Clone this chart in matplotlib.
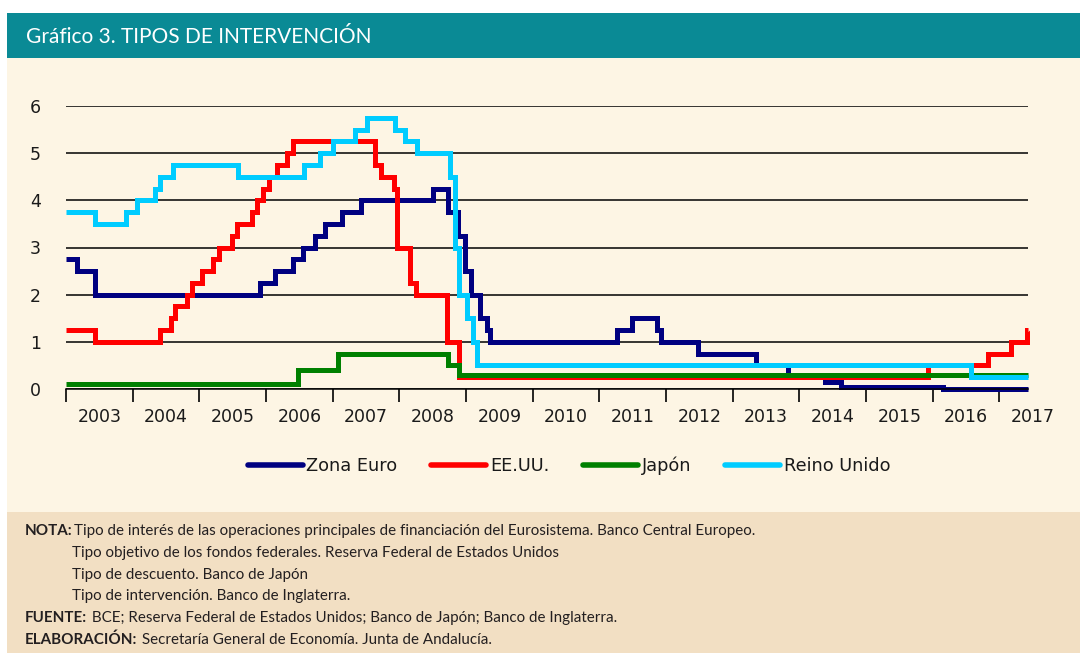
import matplotlib
matplotlib.use("Agg")
import matplotlib.pyplot as plt
from matplotlib import font_manager
from matplotlib.patches import Rectangle
from matplotlib.transforms import blended_transform_factory

# =========================================
# DATOS (año decimal del cambio -> tipo vigente desde ese momento)
# =========================================

anios = list(range(2003, 2018))
fecha_fin = 2017.43

euro_fechas = [2003.0, 2003.17, 2003.43, 2005.91, 2006.14, 2006.41, 2006.56, 2006.74,
               2006.89, 2007.14, 2007.43, 2008.51, 2008.73, 2008.88, 2008.98, 2009.08,
               2009.21, 2009.31, 2009.36, 2011.26, 2011.49, 2011.86, 2011.93, 2012.48,
               2013.35, 2013.83, 2014.38, 2014.63, 2016.16]
euro_tipos = [2.75, 2.5, 2.0, 2.25, 2.5, 2.75, 3.0, 3.25,
              3.5, 3.75, 4.0, 4.25, 3.75, 3.25, 2.5, 2.0,
              1.5, 1.25, 1.0, 1.25, 1.5, 1.25, 1.0, 0.75,
              0.5, 0.25, 0.15, 0.05, 0.0]

eeuu_fechas = [2003.0, 2003.43, 2004.41, 2004.58, 2004.64, 2004.81, 2004.89, 2005.04,
               2005.21, 2005.29, 2005.49, 2005.56, 2005.79, 2005.86, 2005.96, 2006.04,
               2006.16, 2006.31, 2006.41, 2007.64, 2007.72, 2007.92, 2007.97, 2008.16,
               2008.25, 2008.72, 2008.9, 2015.93, 2016.83, 2017.18, 2017.41]
eeuu_tipos = [1.25, 1.0, 1.25, 1.5, 1.75, 2.0, 2.25, 2.5,
              2.75, 3.0, 3.25, 3.5, 3.75, 4.0, 4.25, 4.5,
              4.75, 5.0, 5.25, 4.75, 4.5, 4.25, 3.0, 2.25,
              2.0, 1.0, 0.25, 0.5, 0.75, 1.0, 1.25]

japon_fechas = [2003.0, 2006.48, 2007.08, 2008.73, 2008.9]
japon_tipos = [0.1, 0.4, 0.75, 0.5, 0.3]

uk_fechas = [2003.0, 2003.43, 2003.9, 2004.07, 2004.33, 2004.41, 2004.6, 2005.58,
             2006.57, 2006.81, 2007.0, 2007.33, 2007.51, 2007.93, 2008.08, 2008.26,
             2008.76, 2008.84, 2008.9, 2009.01, 2009.1, 2009.16, 2016.58]
uk_tipos = [3.75, 3.5, 3.75, 4.0, 4.25, 4.5, 4.75, 4.5,
            4.75, 5.0, 5.25, 5.5, 5.75, 5.5, 5.25, 5.0,
            4.5, 3.0, 2.0, 1.5, 1.0, 0.5, 0.25]

series = [
    ("Zona Euro", euro_fechas, euro_tipos, "#000080"),
    ("EE.UU.", eeuu_fechas, eeuu_tipos, "#FF0000"),
    ("Japón", japon_fechas, japon_tipos, "#008000"),
    ("Reino Unido", uk_fechas, uk_tipos, "#00CCFF"),
]

notas = [
    ("NOTA:", "Tipo de interés de las operaciones principales de financiación del Eurosistema. Banco Central Europeo."),
    ("", "Tipo objetivo de los fondos federales. Reserva Federal de Estados Unidos"),
    ("", "Tipo de descuento. Banco de Japón"),
    ("", "Tipo de intervención. Banco de Inglaterra."),
    ("FUENTE:", " BCE; Reserva Federal de Estados Unidos; Banco de Japón; Banco de Inglaterra."),
    ("ELABORACIÓN:", " Secretaría General de Economía. Junta de Andalucía."),
]

# =========================================
# FUENTES
# =========================================

instaladas = {f.name for f in font_manager.fontManager.ttflist}


def elegir(*candidatas):
    for c in candidatas:
        if c in instaladas:
            return c
    return "DejaVu Sans"


fuente_titulo = elegir("Lato", "Open Sans", "Noto Sans")
fuente_nota = elegir("Liberation Sans Narrow", "DejaVu Sans Condensed", "Lato")

plt.rcParams["font.family"] = ["DejaVu Sans"]

# =========================================
# FIGURA Y FONDOS
# =========================================

W, H = 1080, 653
fig = plt.figure(figsize=(W / 100, H / 100), dpi=100, facecolor="white")


def px_rect(x0, y0, x1, y1, color):
    fig.patches.append(Rectangle((x0 / W, 1 - y1 / H), (x1 - x0) / W, (y1 - y0) / H,
                                 transform=fig.transFigure, facecolor=color,
                                 edgecolor="none", zorder=-5))


px_rect(7, 13, W, 58, "#0A8A95")
px_rect(7, 58, W, 512, "#FDF5E4")
px_rect(7, 512, W, H, "#F2DFC3")

fig.text(26 / W, 1 - 37 / H, "Gráfico 3. TIPOS DE INTERVENCIÓN", color="white",
         fontsize=15, family=fuente_titulo, va="center", ha="left")

# =========================================
# GRÁFICO
# =========================================

ax = fig.add_axes([66 / W, 1 - 389 / H, (1028 - 66) / W, (389 - 106) / H])
ax.set_facecolor("none")

for nombre, fechas, tipos, color in series:
    x = fechas + [fecha_fin]
    y = tipos + [tipos[-1]]
    ax.plot(x, y, drawstyle="steps-post", color=color, lw=3.6, label=nombre,
            solid_joinstyle="miter", solid_capstyle="butt", clip_on=False)

ax.set_xlim(2003, fecha_fin)
ax.set_ylim(0, 6)
ax.set_yticks(range(0, 7))
ax.set_xticks(anios)
ax.set_xticklabels([])
ax.yaxis.grid(True, color="black", lw=1.1)
ax.set_axisbelow(True)

for lado in ["top", "right", "left"]:
    ax.spines[lado].set_visible(False)
ax.spines["bottom"].set_color("black")
ax.spines["bottom"].set_linewidth(1.1)

ax.tick_params(axis="y", length=0, pad=18, labelsize=12.5, labelcolor="#1a1a1a")
ax.tick_params(axis="x", direction="out", length=9.5, width=1.2, color="black")

trans = blended_transform_factory(ax.transData, ax.transAxes)
for a in anios:
    ax.text(a + 0.5, -0.098, str(a), transform=trans, ha="center", va="center",
            fontsize=12.5, color="#1a1a1a", clip_on=False)

leg = fig.legend(loc="center", bbox_to_anchor=(569 / W, 1 - 466 / H), ncol=4,
                 frameon=False, fontsize=12.8, handlelength=3.1, handletextpad=0.2,
                 columnspacing=1.9)
for linea in leg.get_lines():
    linea.set_linewidth(4)
    linea.set_solid_capstyle("round")
for t in leg.get_texts():
    t.set_color("#1a1a1a")

# =========================================
# NOTAS
# =========================================

fig.canvas.draw()
renderer = fig.canvas.get_renderer()
color_nota = "#231F20"
tam_nota = 10.9
y0 = 531
for i, (etiqueta, texto) in enumerate(notas):
    yy = 1 - (y0 + i * 21.8) / H
    if etiqueta:
        t = fig.text(25 / W, yy, etiqueta, fontsize=tam_nota, family=fuente_nota,
                     weight="bold", color=color_nota, va="center", ha="left")
        x_fin = t.get_window_extent(renderer).x1 / W + 1 / W
    else:
        x_fin = 72 / W
    fig.text(x_fin, yy, texto, fontsize=tam_nota, family=fuente_nota,
             color=color_nota, va="center", ha="left")

fig.savefig("out.png", dpi=100, facecolor="white")
